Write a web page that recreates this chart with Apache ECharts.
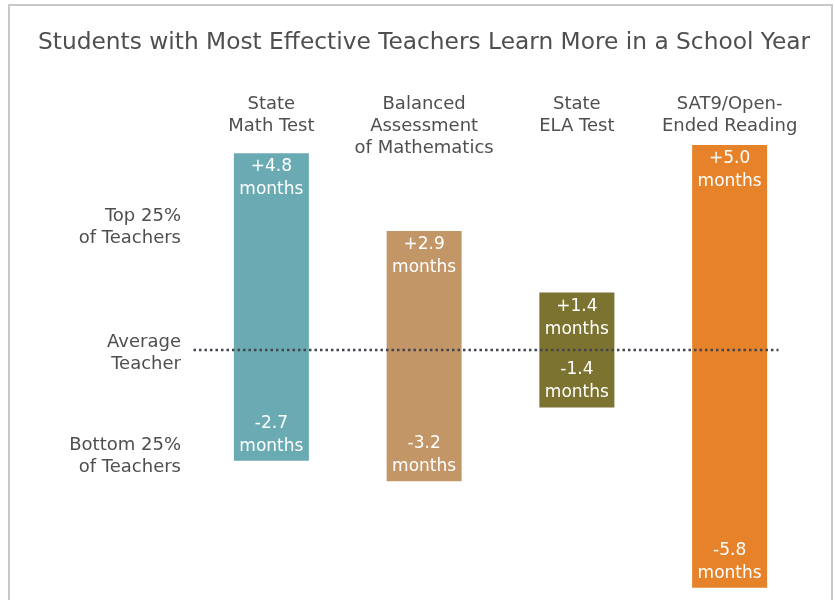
<!DOCTYPE html>
<html>
<head>
<meta charset="utf-8">
<script src="https://cdn.jsdelivr.net/npm/echarts@6/dist/echarts.min.js"></script>
<style>
  html, body { margin: 0; padding: 0; background: #fff; }
  #chart { width: 835px; height: 600px; }
</style>
</head>
<body>
<div id="chart"></div>
<script>
  // test names along the top
  const categories = [
    "State\nMath Test",
    "Balanced\nAssessment\nof Mathematics",
    "State\nELA Test",
    "SAT9/Open-\nEnded Reading",
  ];
  // months gained by top 25% vs average, lost by bottom 25% vs average
  const topGain = [4.8, 2.9, 1.4, 5.0];
  const bottomLoss = [-2.7, -3.2, -1.4, -5.8];
  const barColors = ["#6aabb3", "#c39667", "#7d7331", "#e5822a"];

  // row labels on the left
  const rowLabels = ["Top 25%\nof Teachers", "Average\nTeacher", "Bottom 25%\nof Teachers"];
  const rowLabelValues = [3, -0.08, -2.6];

  // dotted "average teacher" line, x in category units
  const averageLine = [[-0.546, 0], [3.32, 0]];

  const font = "'DejaVu Sans', Verdana, sans-serif";
  const grey = "#4f4f4f";

  const chart = echarts.init(document.getElementById("chart"));

  const option = {
    animation: false,
    title: {
      text: "Students with Most Effective Teachers Learn More in a School Year",
      left: 33,
      top: 26,
      textStyle: { fontFamily: font, fontSize: 23.3, fontWeight: "normal", color: grey },
    },
    graphic: [
      {
        type: "rect",
        shape: { x: 9, y: 5, width: 823, height: 620 },
        style: { fill: "none", stroke: "#c8c8c8", lineWidth: 2 },
        silent: true,
      },
    ],
    grid: { left: 195, right: 29, top: 104, bottom: 4 },
    xAxis: [
      {
        type: "category",
        data: categories,
        position: "top",
        axisLine: { show: false },
        axisTick: { show: false },
        axisLabel: {
          fontFamily: font,
          fontSize: 18,
          lineHeight: 22,
          color: grey,
          verticalAlign: "top",
          margin: 11,
          interval: 0,
        },
      },
      { type: "value", min: -0.5, max: 3.5, show: false },
    ],
    yAxis: {
      type: "value",
      min: -6,
      max: 6,
      axisLine: { show: false },
      axisTick: { show: false },
      splitLine: { show: false },
      axisLabel: {
        customValues: rowLabelValues,
        formatter: (v) => {
          const i = rowLabelValues.findIndex((r) => Math.abs(r - v) < 1e-6);
          return i < 0 ? "" : rowLabels[i];
        },
        fontFamily: font,
        fontSize: 18,
        lineHeight: 22,
        color: grey,
        align: "right",
        margin: 14,
      },
    },
    series: [
      {
        name: "Top 25%",
        type: "bar",
        stack: "range",
        barWidth: 75,
        data: topGain,
        itemStyle: { color: (p) => barColors[p.dataIndex] },
        label: {
          show: true,
          position: "insideTop",
          distance: 2,
          formatter: (p) => "+" + p.value.toFixed(1) + "\nmonths",
          fontFamily: font,
          fontSize: 17,
          lineHeight: 23,
          color: "#fff",
        },
      },
      {
        name: "Bottom 25%",
        type: "bar",
        stack: "range",
        barWidth: 75,
        data: bottomLoss,
        itemStyle: { color: (p) => barColors[p.dataIndex] },
        label: {
          show: true,
          position: "insideBottom",
          distance: 3,
          formatter: (p) => p.value.toFixed(1) + "\nmonths",
          fontFamily: font,
          fontSize: 17,
          lineHeight: 23,
          color: "#fff",
        },
      },
      {
        name: "Average",
        type: "line",
        xAxisIndex: 1,
        data: averageLine,
        clip: false,
        symbol: "none",
        z: 5,
        lineStyle: { color: "#44444f", width: 2.5, type: [2.5, 3] },
      },
    ],
  };

  chart.setOption(option);
</script>
</body>
</html>
